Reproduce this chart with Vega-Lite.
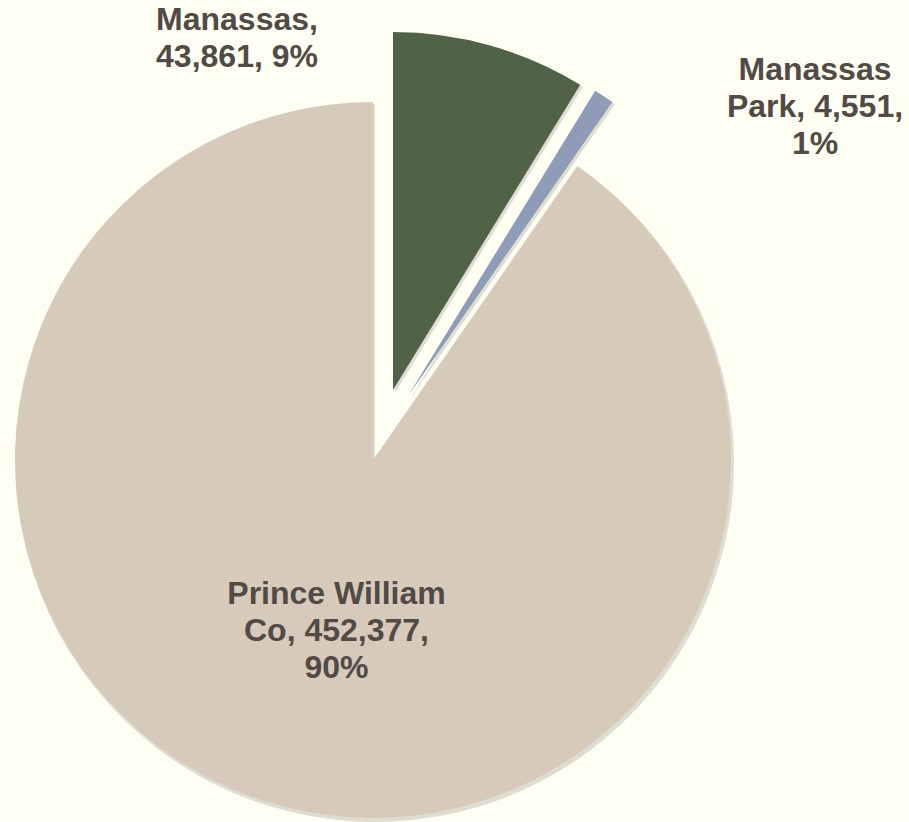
{
  "$schema": "https://vega.github.io/schema/vega-lite/v6.json",
  "width": 909,
  "height": 822,
  "autosize": {"type": "fit", "contains": "padding"},
  "padding": 0,
  "background": "#FEFEF2",
  "config": {"view": {"stroke": null}},
  "data": {
    "values": [
      {"place": "Manassas", "population": 43861, "order": 1, "label": "Manassas,\n43,861, 9%"},
      {"place": "Manassas Park", "population": 4551, "order": 2, "label": "Manassas\nPark, 4,551,\n1%"},
      {"place": "Prince William Co", "population": 452377, "order": 3, "label": "Prince William\nCo, 452,377,\n90%"}
    ]
  },
  "transform": [
    {"stack": "population", "groupby": [], "sort": [{"field": "order", "order": "ascending"}], "as": ["a0", "a1"]}
  ],
  "layer": [
    {
      "transform": [{"filter": "datum.place === 'Prince William Co'"}],
      "mark": {"type": "arc", "outerRadius": 359, "xOffset": -79.5, "yOffset": 52, "fill": "#6E6A5E", "opacity": 0.22},
      "encoding": {
        "theta": {"field": "a0", "type": "quantitative", "scale": {"domain": [0, 500789], "range": [0, 6.283185307]}},
        "theta2": {"field": "a1"}
      }
    },
    {
      "transform": [{"filter": "datum.place === 'Manassas'"}],
      "mark": {"type": "arc", "outerRadius": 359, "xOffset": -59.5, "yOffset": -18, "fill": "#6E6A5E", "opacity": 0.22},
      "encoding": {
        "theta": {"field": "a0", "type": "quantitative", "scale": {"domain": [0, 500789], "range": [0, 6.283185307]}},
        "theta2": {"field": "a1"}
      }
    },
    {
      "transform": [{"filter": "datum.place === 'Manassas Park'"}],
      "mark": {"type": "arc", "outerRadius": 359, "xOffset": -44.5, "yOffset": -12, "fill": "#6E6A5E", "opacity": 0.22},
      "encoding": {
        "theta": {"field": "a0", "type": "quantitative", "scale": {"domain": [0, 500789], "range": [0, 6.283185307]}},
        "theta2": {"field": "a1"}
      }
    },
    {
      "transform": [{"filter": "datum.place === 'Prince William Co'"}],
      "mark": {"type": "arc", "outerRadius": 358, "xOffset": -81.5, "yOffset": 49},
      "encoding": {
        "theta": {"field": "a0", "type": "quantitative", "scale": {"domain": [0, 500789], "range": [0, 6.283185307]}},
        "theta2": {"field": "a1"},
        "color": {"field": "place", "type": "nominal", "scale": {"domain": ["Manassas", "Manassas Park", "Prince William Co"], "range": ["#506349", "#8E9CB8", "#D6CBBB"]}, "legend": null}
      }
    },
    {
      "transform": [{"filter": "datum.place === 'Manassas'"}],
      "mark": {"type": "arc", "outerRadius": 358, "xOffset": -61.5, "yOffset": -21},
      "encoding": {
        "theta": {"field": "a0", "type": "quantitative", "scale": {"domain": [0, 500789], "range": [0, 6.283185307]}},
        "theta2": {"field": "a1"},
        "color": {"field": "place", "type": "nominal", "scale": {"domain": ["Manassas", "Manassas Park", "Prince William Co"], "range": ["#506349", "#8E9CB8", "#D6CBBB"]}, "legend": null}
      }
    },
    {
      "transform": [{"filter": "datum.place === 'Manassas Park'"}],
      "mark": {"type": "arc", "outerRadius": 358, "xOffset": -46.5, "yOffset": -15},
      "encoding": {
        "theta": {"field": "a0", "type": "quantitative", "scale": {"domain": [0, 500789], "range": [0, 6.283185307]}},
        "theta2": {"field": "a1"},
        "color": {"field": "place", "type": "nominal", "scale": {"domain": ["Manassas", "Manassas Park", "Prince William Co"], "range": ["#506349", "#8E9CB8", "#D6CBBB"]}, "legend": null}
      }
    },
    {
      "transform": [{"filter": "datum.place === 'Manassas'"}],
      "mark": {"type": "text", "font": "Liberation Sans", "fontWeight": "bold", "fontSize": 32, "lineHeight": 37, "lineBreak": "\n", "color": "#524A45", "align": "center", "baseline": "middle", "dx": -217.5, "dy": -391},
      "encoding": {"text": {"field": "label"}}
    },
    {
      "transform": [{"filter": "datum.place === 'Manassas Park'"}],
      "mark": {"type": "text", "font": "Liberation Sans", "fontWeight": "bold", "fontSize": 32, "lineHeight": 37, "lineBreak": "\n", "color": "#524A45", "align": "center", "baseline": "middle", "dx": 360.5, "dy": -341},
      "encoding": {"text": {"field": "label"}}
    },
    {
      "transform": [{"filter": "datum.place === 'Prince William Co'"}],
      "mark": {"type": "text", "font": "Liberation Sans", "fontWeight": "bold", "fontSize": 32, "lineHeight": 37, "lineBreak": "\n", "color": "#524A45", "align": "center", "baseline": "middle", "dx": -118, "dy": 183},
      "encoding": {"text": {"field": "label"}}
    }
  ]
}
